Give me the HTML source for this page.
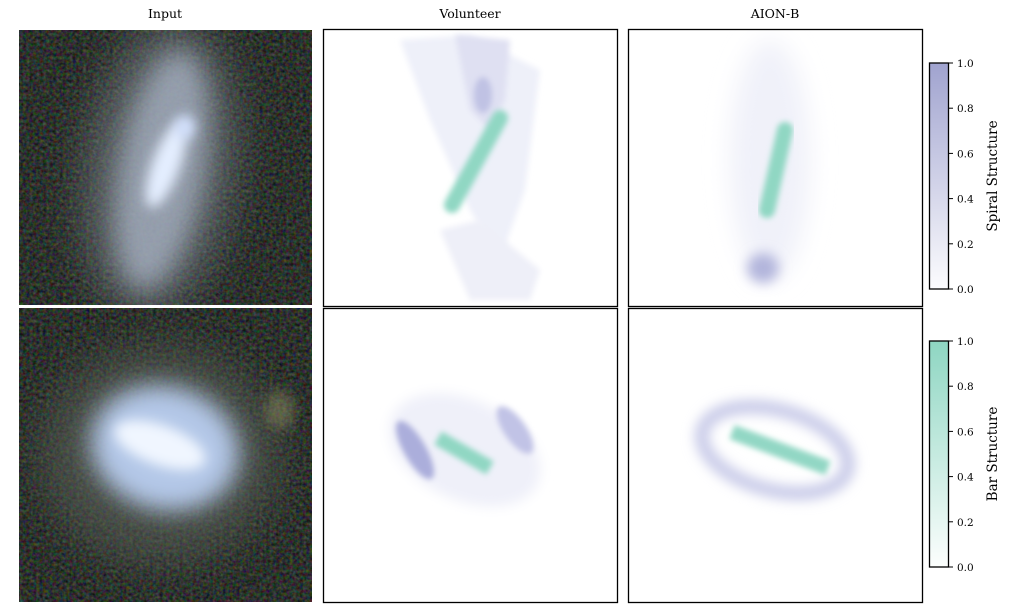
<!DOCTYPE html>
<html><head><meta charset="utf-8"><style>
body{margin:0;background:#fff;}
svg{display:block;font-family:"DejaVu Serif","Liberation Serif",serif;}
</style></head><body>
<svg width="1013" height="615" viewBox="0 0 1013 615">
<defs>
<filter id="noise" x="0" y="0" width="100%" height="100%" color-interpolation-filters="sRGB">
<feTurbulence type="fractalNoise" baseFrequency="0.3" numOctaves="2" seed="3" result="n"/>
<feColorMatrix type="matrix" values="0.45 0 0 0 -0.05  0 0.45 0 0 -0.03  0 0 0.45 0 -0.05  0 0 0 0 1"/>
</filter>
<filter id="b6" x="-50%" y="-50%" width="200%" height="200%"><feGaussianBlur stdDeviation="6"/></filter>
<filter id="b12" x="-50%" y="-50%" width="200%" height="200%"><feGaussianBlur stdDeviation="12"/></filter>
<filter id="b20" x="-50%" y="-50%" width="200%" height="200%"><feGaussianBlur stdDeviation="20"/></filter>
<filter id="b3" x="-50%" y="-50%" width="200%" height="200%"><feGaussianBlur stdDeviation="3"/></filter>
<linearGradient id="gp" x1="0" y1="1" x2="0" y2="0"><stop offset="0" stop-color="#fcfcfe"/><stop offset="1" stop-color="#a0a3cf"/></linearGradient>
<linearGradient id="gg" x1="0" y1="1" x2="0" y2="0"><stop offset="0" stop-color="#fcfefd"/><stop offset="1" stop-color="#8ed6c2"/></linearGradient>
<clipPath id="c1"><rect x="19" y="30" width="293" height="275"/></clipPath>
<clipPath id="c2"><rect x="19" y="308" width="293" height="294"/></clipPath>
<clipPath id="c3"><rect x="323" y="29" width="294" height="277"/></clipPath>
<clipPath id="c4"><rect x="628" y="29" width="294" height="277"/></clipPath>
<clipPath id="c5"><rect x="323" y="308" width="294" height="294"/></clipPath>
<clipPath id="c6"><rect x="628" y="308" width="294" height="294"/></clipPath>
</defs>

<text x="165" y="18" text-anchor="middle" font-size="12.5">Input</text>
<text x="470" y="18" text-anchor="middle" font-size="12.5">Volunteer</text>
<text x="775" y="18" text-anchor="middle" font-size="12.5">AION-B</text>

<g clip-path="url(#c1)">
<rect x="19" y="30" width="293" height="275" filter="url(#noise)"/>
<ellipse cx="160" cy="170" rx="75" ry="150" fill="#7a828a" opacity="0.6" filter="url(#b20)" transform="rotate(8 160 170)"/>
<ellipse cx="162" cy="170" rx="42" ry="120" fill="#a8b2c4" opacity="0.75" filter="url(#b12)" transform="rotate(10 162 170)"/>
<ellipse cx="166" cy="165" rx="14" ry="45" fill="#e4eeff" filter="url(#b6)" transform="rotate(20 166 165)"/>
<ellipse cx="185" cy="127" rx="10" ry="12" fill="#d4e2ff" filter="url(#b6)"/>
</g>
<g clip-path="url(#c2)">
<rect x="19" y="308" width="293" height="294" filter="url(#noise)"/>
<ellipse cx="160" cy="455" rx="120" ry="110" fill="#5a6058" opacity="0.6" filter="url(#b20)"/>
<ellipse cx="165" cy="448" rx="75" ry="62" fill="#b4c8e8" filter="url(#b12)" transform="rotate(15 165 448)"/>
<ellipse cx="160" cy="445" rx="48" ry="20" fill="#f0f6ff" filter="url(#b6)" transform="rotate(20 160 445)"/>
<ellipse cx="280" cy="410" rx="15" ry="20" fill="#8a8a60" opacity="0.5" filter="url(#b6)"/>
</g>

<g clip-path="url(#c3)">
<polygon points="400,40 470,35 540,70 525,190 500,260 470,210 430,120" fill="#eef0f9" filter="url(#b3)"/>
<polygon points="455,35 510,40 505,100 490,130 470,110" fill="#dfe0f2" filter="url(#b3)"/>
<ellipse cx="483" cy="95" rx="9" ry="18" fill="#c0c2e4" filter="url(#b3)"/>
<polygon points="440,230 480,220 540,270 530,300 470,300" fill="#eeeff8" filter="url(#b3)"/>
<line x1="500" y1="118" x2="452" y2="205" stroke="#90d7c3" stroke-width="16" stroke-linecap="round" filter="url(#b3)"/>
</g>
<rect x="323.5" y="29.5" width="294" height="277" fill="none" stroke="#000" stroke-width="1.3"/>

<g clip-path="url(#c4)">
<ellipse cx="770" cy="160" rx="40" ry="120" fill="#f0f1f9" filter="url(#b12)"/>
<ellipse cx="763" cy="268" rx="16" ry="15" fill="#b2b5dc" filter="url(#b6)"/>
<line x1="785" y1="130" x2="767" y2="210" stroke="#90d7c3" stroke-width="16" stroke-linecap="round" filter="url(#b3)"/>
</g>
<rect x="628.5" y="29.5" width="294" height="277" fill="none" stroke="#000" stroke-width="1.3"/>

<g clip-path="url(#c5)">
<ellipse cx="465" cy="450" rx="80" ry="50" fill="#eff0f9" filter="url(#b6)" transform="rotate(25 465 450)"/>
<ellipse cx="415" cy="450" rx="11" ry="33" fill="#abaedb" filter="url(#b3)" transform="rotate(-30 415 450)"/>
<ellipse cx="515" cy="430" rx="11" ry="28" fill="#c1c3e6" filter="url(#b3)" transform="rotate(-35 515 430)"/>
<line x1="438" y1="438" x2="490" y2="468" stroke="#90d7c3" stroke-width="15" filter="url(#b3)"/>
</g>
<rect x="323.5" y="308.5" width="294" height="294" fill="none" stroke="#000" stroke-width="1.3"/>

<g clip-path="url(#c6)">
<ellipse cx="775" cy="450" rx="75" ry="40" fill="none" stroke="#c8cae8" stroke-width="14" filter="url(#b6)" transform="rotate(15 775 450)"/>
<line x1="732" y1="432" x2="828" y2="468" stroke="#92d7c4" stroke-width="15" filter="url(#b3)"/>
</g>
<rect x="628.5" y="308.5" width="294" height="294" fill="none" stroke="#000" stroke-width="1.3"/>

<g id="cbars"></g>
</svg>
<script>
const tickValues=[0,0.2,0.4,0.6,0.8,1.0];
const tickLabels=["0.0","0.2","0.4","0.6","0.8","1.0"];
const ns="http://www.w3.org/2000/svg";
const g=document.getElementById('cbars');
function mk(t,a){const e=document.createElementNS(ns,t);for(const k in a)e.setAttribute(k,a[k]);g.appendChild(e);return e;}
function cbar(top,bot,grad,label,nm){
 const sc=v=>bot-(bot-top)*v;
 const r=mk('rect',{x:929.5,y:top,width:19,height:bot-top,fill:'url(#'+grad+')',stroke:'#000','stroke-width':1.3});
 
 
 tickValues.forEach((v,i)=>{
  const y=sc(v);
  const l=mk('line',{x1:949,x2:953,y1:y,y2:y,stroke:'#000','stroke-width':1});
  
  
  const t=mk('text',{x:957,y:y+4,'font-size':10.5});
  t.textContent=tickLabels[i];
  
  
 });
 const cy=(top+bot)/2;
 const t=mk('text',{x:997,y:cy,'font-size':13.5,'text-anchor':'middle',transform:'rotate(-90 997 '+cy+')'});
 t.textContent=label;
 
 
}
cbar(63,289,'gp','Spiral Structure','spiral');
cbar(341,567,'gg','Bar Structure','bar');
</script>
</body></html>
